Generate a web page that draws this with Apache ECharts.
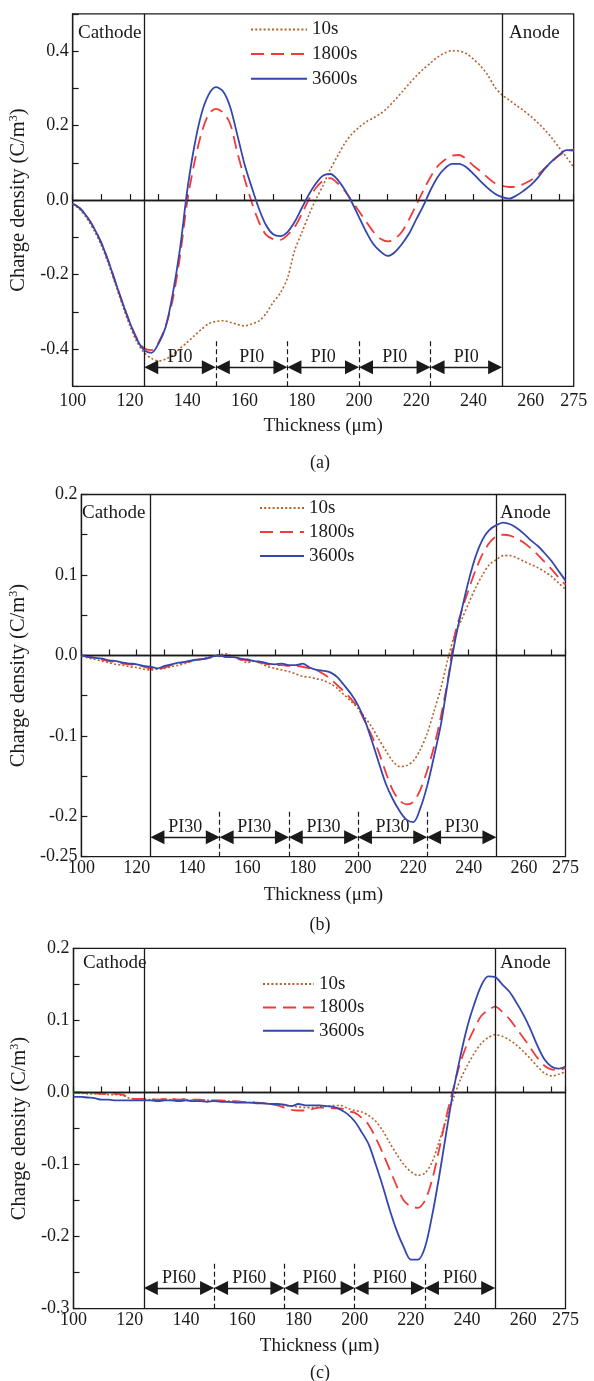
<!DOCTYPE html>
<html><head><meta charset="utf-8">
<script src="https://cdn.jsdelivr.net/npm/echarts@6.0.0/dist/echarts.min.js"></script>
<style>html,body{margin:0;padding:0;background:#fff}#c{width:594px;height:1381px}</style>
</head><body><div id="c"></div>
<script>
// ---------- DATA ----------
const thickness = [100,102.5,105,107.5,110,112.5,115,117.5,120,122.5,
  125,127.5,130,132.5,135,137.5,140,142.5,145,147.5,
  150,152.5,155,157.5,160,162.5,165,167.5,170,172.5,
  175,177.5,180,182.5,185,187.5,190,192.5,195,197.5,
  200,202.5,205,207.5,210,212.5,215,217.5,220,222.5,
  225,227.5,230,232.5,235,237.5,240,242.5,245,247.5,
  250,252.5,255,257.5,260,262.5,265,267.5,270,272.5,275];
const seriesNames = ['10s','1800s','3600s'];

// Panel (a) PI0
const a10 = [-0.010,-0.025,-0.050,-0.082,-0.122,-0.172,-0.228,-0.285,-0.338,-0.382,
  -0.410,-0.425,-0.432,-0.427,-0.415,-0.398,-0.382,-0.364,-0.347,-0.332,
  -0.326,-0.324,-0.328,-0.334,-0.338,-0.333,-0.325,-0.305,-0.275,-0.250,
  -0.210,-0.136,-0.088,-0.040,0.003,0.040,0.083,0.118,0.152,0.177,
  0.195,0.210,0.220,0.232,0.248,0.268,0.290,0.312,0.333,0.352,
  0.368,0.384,0.395,0.401,0.400,0.393,0.378,0.360,0.335,0.303,
  0.282,0.268,0.254,0.240,0.225,0.207,0.188,0.165,0.140,0.115,0.088];
const a1800 = [-0.010,-0.022,-0.045,-0.076,-0.115,-0.165,-0.222,-0.278,-0.330,-0.372,
  -0.398,-0.403,-0.382,-0.338,-0.265,-0.150,-0.005,0.100,0.180,0.230,
  0.245,0.235,0.205,0.128,0.058,-0.005,-0.058,-0.093,-0.105,-0.107,
  -0.094,-0.073,-0.038,0.002,0.033,0.052,0.059,0.045,0.025,-0.002,
  -0.030,-0.058,-0.085,-0.104,-0.111,-0.104,-0.085,-0.052,-0.013,0.026,
  0.062,0.091,0.108,0.119,0.121,0.110,0.092,0.077,0.060,0.045,
  0.038,0.035,0.036,0.043,0.053,0.068,0.086,0.104,0.120,0.132,0.135];
const a3600 = [-0.010,-0.022,-0.045,-0.076,-0.115,-0.165,-0.222,-0.278,-0.330,-0.375,
  -0.403,-0.410,-0.385,-0.340,-0.250,-0.130,0.025,0.145,0.232,0.283,
  0.303,0.292,0.250,0.175,0.097,0.035,-0.022,-0.067,-0.092,-0.097,
  -0.086,-0.059,-0.022,0.015,0.045,0.066,0.070,0.055,0.028,-0.006,
  -0.046,-0.085,-0.118,-0.138,-0.150,-0.140,-0.118,-0.090,-0.052,-0.015,
  0.027,0.062,0.085,0.097,0.097,0.088,0.070,0.050,0.032,0.017,
  0.008,0.004,0.012,0.025,0.040,0.060,0.085,0.105,0.122,0.134,0.133];

// Panel (b) PI30
const b10 = [-0.001,-0.003,-0.005,-0.007,-0.009,-0.011,-0.012,-0.014,-0.015,-0.017,
  -0.018,-0.017,-0.016,-0.014,-0.012,-0.010,-0.007,-0.005,-0.003,-0.001,
  0.001,0.002,-0.002,-0.005,-0.009,-0.007,-0.010,-0.014,-0.016,-0.018,
  -0.020,-0.023,-0.026,-0.027,-0.029,-0.031,-0.035,-0.041,-0.049,-0.057,
  -0.066,-0.077,-0.089,-0.104,-0.118,-0.131,-0.138,-0.137,-0.131,-0.117,
  -0.097,-0.069,-0.040,-0.004,0.026,0.045,0.065,0.084,0.100,0.113,
  0.119,0.124,0.124,0.121,0.117,0.113,0.109,0.104,0.098,0.090,0.082];
const b1800 = [0.000,-0.001,-0.003,-0.005,-0.007,-0.008,-0.010,-0.011,-0.012,-0.014,
  -0.016,-0.017,-0.015,-0.012,-0.010,-0.008,-0.007,-0.005,-0.004,-0.002,
  -0.001,0.000,-0.003,-0.005,-0.006,-0.008,-0.009,-0.011,-0.012,-0.012,
  -0.013,-0.013,-0.014,-0.016,-0.018,-0.023,-0.029,-0.037,-0.045,-0.054,
  -0.065,-0.082,-0.100,-0.120,-0.145,-0.167,-0.180,-0.185,-0.182,-0.167,
  -0.143,-0.113,-0.075,-0.030,0.026,0.056,0.082,0.106,0.126,0.140,
  0.148,0.150,0.149,0.145,0.140,0.133,0.125,0.116,0.107,0.097,0.088];
const b3600 = [0.000,-0.002,-0.003,-0.004,-0.006,-0.007,-0.009,-0.010,-0.011,-0.013,
  -0.014,-0.016,-0.013,-0.011,-0.009,-0.008,-0.006,-0.005,-0.004,-0.001,
  0.000,-0.002,-0.002,-0.004,-0.005,-0.007,-0.008,-0.010,-0.011,-0.010,
  -0.012,-0.012,-0.010,-0.015,-0.018,-0.019,-0.021,-0.027,-0.037,-0.048,
  -0.062,-0.081,-0.106,-0.133,-0.159,-0.178,-0.193,-0.204,-0.207,-0.190,
  -0.162,-0.125,-0.085,-0.032,0.017,0.057,0.093,0.123,0.144,0.156,
  0.162,0.165,0.163,0.158,0.151,0.143,0.136,0.127,0.117,0.105,0.093];

// Panel (c) PI60
const c10 = [-0.001,-0.001,-0.002,-0.002,-0.002,-0.003,-0.003,-0.004,-0.008,-0.009,
  -0.009,-0.010,-0.010,-0.009,-0.010,-0.010,-0.010,-0.011,-0.011,-0.011,
  -0.011,-0.012,-0.012,-0.013,-0.013,-0.014,-0.014,-0.015,-0.016,-0.017,
  -0.018,-0.019,-0.020,-0.021,-0.021,-0.020,-0.019,-0.018,-0.018,-0.022,
  -0.025,-0.027,-0.032,-0.040,-0.053,-0.070,-0.086,-0.100,-0.110,-0.115,
  -0.112,-0.097,-0.069,-0.038,-0.010,0.017,0.037,0.054,0.068,0.076,
  0.080,0.078,0.073,0.066,0.057,0.047,0.036,0.027,0.023,0.025,0.029];
const c1800 = [0.000,0.000,-0.001,-0.001,-0.002,-0.002,-0.002,-0.003,-0.008,-0.009,
  -0.009,-0.009,-0.010,-0.009,-0.009,-0.010,-0.009,-0.010,-0.010,-0.011,
  -0.011,-0.011,-0.012,-0.012,-0.013,-0.013,-0.014,-0.015,-0.016,-0.018,
  -0.021,-0.024,-0.025,-0.025,-0.023,-0.021,-0.021,-0.022,-0.022,-0.026,
  -0.028,-0.035,-0.045,-0.063,-0.084,-0.107,-0.130,-0.150,-0.158,-0.160,
  -0.150,-0.122,-0.080,-0.035,0.004,0.040,0.067,0.088,0.106,0.114,
  0.119,0.112,0.102,0.089,0.076,0.062,0.048,0.037,0.032,0.031,0.034];
const c3600 = [-0.006,-0.006,-0.007,-0.008,-0.010,-0.010,-0.011,-0.011,-0.011,-0.011,
  -0.011,-0.011,-0.012,-0.011,-0.011,-0.012,-0.011,-0.012,-0.012,-0.013,
  -0.012,-0.013,-0.013,-0.014,-0.014,-0.014,-0.015,-0.015,-0.016,-0.016,
  -0.017,-0.019,-0.016,-0.018,-0.018,-0.018,-0.019,-0.020,-0.024,-0.030,
  -0.040,-0.055,-0.072,-0.100,-0.130,-0.163,-0.192,-0.215,-0.232,-0.232,
  -0.215,-0.172,-0.118,-0.058,0.000,0.048,0.090,0.122,0.148,0.161,
  0.160,0.150,0.140,0.125,0.108,0.088,0.065,0.046,0.036,0.033,0.036];

// Layer boundaries (µm) and labels
const layerBounds = [125,150,175,200,225,250];
const layerLabelsA = ['PI0','PI0','PI0','PI0','PI0'];
const layerLabelsB = ['PI30','PI30','PI30','PI30','PI30'];
const layerLabelsC = ['PI60','PI60','PI60','PI60','PI60'];
const electrodeLabels = ['Cathode','Anode'];
const captions = ['(a)','(b)','(c)'];

// ---------- STYLE / LAYOUT ----------
const FONT = '"Liberation Serif","Times New Roman",serif';
const INK = '#1a1a1a';
const styles = [
  {color:'#b5622a', width:1.6, type:[2,2.2]},
  {color:'#f23a3a', width:1.8, type:[13,7]},
  {color:'#3447ad', width:1.8, type:'solid'}
];
const panels = [
  {grid:{left:72.7, top:13.8, width:501, height:372.5}, y:[-0.5,0.5,0.1], data:[a10,a1800,a3600],
   labels:layerLabelsA, dashTop:-0.372, arrowY:-0.449, xLabelMargin:6, nameGapX:30, nameGapY:32,
   legend:{left:250, top:20, itemWidth:56, pitch:24.6},
   fmt:v=>{const r=Math.round(v*10); if(r%2!==0||Math.abs(r)===5) return ''; return (r/10).toFixed(1);},
   text:{cy:33, cathodeX:78, anodeX:509}, capY:463},
  {grid:{left:75, top:494.5, width:490.5, height:362.2}, y:[-0.25,0.2,0.05], data:[b10,b1800,b3600],
   labels:layerLabelsB, dashTop:-0.1925, arrowY:-0.2257, xLabelMargin:3, nameGapX:29, nameGapY:34,
   legend:{left:259, top:498.5, itemWidth:44, pitch:24},
   fmt:v=>{const r=Math.round(v*100); if(r===-25) return '-0.25'; if(r%10!==0) return ''; return (r/100).toFixed(1);},
   text:{cy:513, cathodeX:82, anodeX:500}, capY:925},
  {grid:{left:73.5, top:948.3, width:492, height:360.4}, y:[-0.3,0.2,0.05], data:[c10,c1800,c3600],
   labels:layerLabelsC, dashTop:-0.2354, arrowY:-0.2713, xLabelMargin:3, nameGapX:28, nameGapY:32,
   legend:{left:262, top:974.5, itemWidth:51, pitch:23.4},
   fmt:v=>{const r=Math.round(v*100); if(r%10!==0) return ''; return (r/100).toFixed(1);},
   text:{cy:963, cathodeX:83, anodeX:500}, capY:1373}
];

const grids=[], xAxes=[], yAxes=[], series=[], legends=[], graphics=[];
panels.forEach((p,gi)=>{
  grids.push(Object.assign({show:true, borderColor:INK, borderWidth:1.3, backgroundColor:'transparent'}, p.grid));
  xAxes.push({type:'value', gridIndex:gi, min:100, max:275, interval:10,
    name:'Thickness (\u03bcm)', nameLocation:'middle', nameGap:p.nameGapX,
    nameTextStyle:{fontFamily:FONT, fontSize:19, color:INK},
    axisLine:{show:true, lineStyle:{color:INK, width:1.3}},
    axisTick:{show:true, inside:true, length:6, lineStyle:{color:INK, width:1.2}},
    splitLine:{show:false},
    axisLabel:{margin:p.xLabelMargin, fontFamily:FONT, fontSize:18, color:INK, showMinLabel:true, showMaxLabel:true,
      formatter:v=>{const r=Math.round(v); if(r===275) return '275'; if(r%20===0&&r<=260) return String(r); return '';}}
  });
  yAxes.push({type:'value', gridIndex:gi, min:p.y[0], max:p.y[1], interval:p.y[2],
    name:'{n|Charge density (C/m}{s|3}{n|)}', nameLocation:'middle', nameRotate:90, nameGap:p.nameGapY,
    nameTextStyle:{color:INK, rich:{n:{fontFamily:FONT, fontSize:20.5, color:INK, lineHeight:21},
      s:{fontFamily:FONT, fontSize:12, color:INK, verticalAlign:'top', lineHeight:12}}},
    axisLine:{show:true, lineStyle:{color:INK, width:1.3}},
    axisTick:{show:true, inside:true, length:6, lineStyle:{color:INK, width:1.2}},
    splitLine:{show:false},
    axisLabel:{margin:4, fontFamily:FONT, fontSize:18, color:INK, showMinLabel:true, showMaxLabel:true, formatter:p.fmt}
  });
  // data series
  seriesNames.forEach((nm,si)=>{
    series.push({type:'line', name:nm, xAxisIndex:gi, yAxisIndex:gi, showSymbol:false, symbol:'none',
      smooth:0.3, lineStyle:styles[si], itemStyle:{color:styles[si].color}, z:3+si, silent:true,
      data: thickness.map((x,i)=>[x, p.data[si][i]])});
  });
  // annotation series (reference lines, layer arrows)
  const ymin = p.y[0];
  const mlData = [];
  mlData.push({xAxis:layerBounds[0], lineStyle:{color:INK, width:1.3, type:'solid'}});
  mlData.push({xAxis:layerBounds[layerBounds.length-1], lineStyle:{color:INK, width:1.3, type:'solid'}});
  mlData.push({yAxis:0, lineStyle:{color:INK, width:1.4, type:'solid'}});
  for (let k=1;k<layerBounds.length-1;k++){
    mlData.push([{coord:[layerBounds[k], ymin], symbol:'none', lineStyle:{color:INK, width:1.2, type:[5,3]}},
                 {coord:[layerBounds[k], p.dashTop], symbol:'none'}]);
  }
  const pxPerUnit = p.grid.width/175;
  const inset = 7/pxPerUnit;
  for (let k=0;k<layerBounds.length-1;k++){
    mlData.push([{coord:[layerBounds[k]+inset, p.arrowY], symbol:'triangle', symbolSize:14,
                  lineStyle:{color:INK, width:1.4, type:'solid'},
                  label:{show:true, position:'insideMiddleTop', distance:1, formatter:p.labels[k],
                         fontFamily:FONT, fontSize:18, color:INK}},
                 {coord:[layerBounds[k+1]-inset, p.arrowY], symbol:'triangle', symbolSize:14}]);
  }
  series.push({type:'line', name:'_ann'+gi, xAxisIndex:gi, yAxisIndex:gi, data:[], silent:true, z:2,
    markLine:{silent:true, symbol:['none','none'], animation:false, label:{show:false},
      itemStyle:{color:INK}, emphasis:{disabled:true}, data:mlData}});
  legends.push({data:seriesNames, orient:'vertical', left:p.legend.left, top:p.legend.top, padding:0,
    itemWidth:p.legend.itemWidth, itemHeight:18, itemGap:p.legend.pitch-19, itemTextGap:8,
    selectedMode:false, itemStyle:{opacity:0, color:'rgba(0,0,0,0)', borderWidth:0},
    textStyle:{fontFamily:FONT, fontSize:19, color:INK}});
  graphics.push({type:'text', x:p.text.cathodeX, y:p.text.cy, silent:true,
    style:{text:electrodeLabels[0], fontFamily:FONT, fontSize:19, fill:INK, verticalAlign:'middle', align:'left'}});
  graphics.push({type:'text', x:p.text.anodeX, y:p.text.cy, silent:true,
    style:{text:electrodeLabels[1], fontFamily:FONT, fontSize:19, fill:INK, verticalAlign:'middle', align:'left'}});
  graphics.push({type:'text', x:320, y:p.capY, silent:true,
    style:{text:captions[gi], fontFamily:FONT, fontSize:18, fill:INK, verticalAlign:'middle', align:'center'}});
});

const chart = echarts.init(document.getElementById('c'), null, {renderer:'canvas'});
chart.setOption({animation:false, backgroundColor:'#fff', grid:grids, xAxis:xAxes, yAxis:yAxes,
  legend:legends, series:series, graphic:graphics});
</script>
</body></html>
